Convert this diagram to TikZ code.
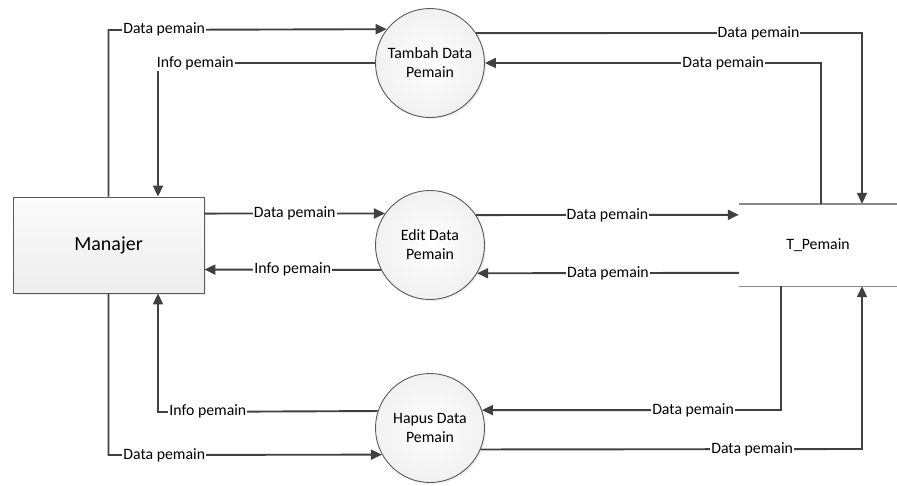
\documentclass[tikz,border=0pt]{standalone}
\usepackage{fontspec}
\setmainfont{Carlito}
\usetikzlibrary{arrows.meta,shadows,calc}
\definecolor{linegray}{HTML}{404040}
\definecolor{rimgray}{HTML}{5A5A5A}
\definecolor{storegray}{HTML}{8A8A8A}

\begin{document}
\begin{tikzpicture}[x=1pt,y=-1pt,
  flow/.style={draw=linegray, line width=1.9pt,
    -{Triangle[length=11pt,width=10pt]}},
  lbl/.style={fill=white, inner sep=1pt, text=black,
    font=\fontsize{15.8}{19}\selectfont},
  entity/.style={rectangle, draw=rimgray, line width=0.9pt,
    minimum width=191pt, minimum height=96pt, inner sep=0pt,
    top color=gray!3, bottom color=gray!14,
    drop shadow={shadow xshift=1.5pt, shadow yshift=-1.5pt, opacity=0.15},
    font=\fontsize{20}{24}\selectfont},
  process/.style={circle, draw=rimgray, line width=0.9pt,
    minimum size=109pt, inner sep=0pt, align=center,
    inner color=white, outer color=gray!11,
    drop shadow={shadow xshift=1.5pt, shadow yshift=-1.5pt, opacity=0.15},
    font=\fontsize{15.8}{19}\selectfont},
  datastore/.style={rectangle, minimum width=158pt, minimum height=82pt,
    inner sep=0pt, font=\fontsize{15.8}{19}\selectfont},
  storeline/.style={draw=storegray, line width=1.4pt}
]
\useasboundingbox (0,0) rectangle (897,485);

% external entity, processes and data store
\node[entity] (manajer) at (108.5,245) {Manajer};
\node[process] (tambah) at (430,63) {Tambah Data\\Pemain};
\node[process] (edit) at (430,245) {Edit Data\\Pemain};
\node[process] (hapus) at (430,428) {Hapus Data\\Pemain};
\node[datastore] (tpemain) at (818,245) {T\_Pemain};
\draw[storeline] (tpemain.north west) -- (tpemain.north east);
\draw[storeline] (tpemain.south west) -- (tpemain.south east);

% bend points of the data flows
\coordinate (m1) at (108.5,30);
\coordinate (m2) at (158,63);
\coordinate (m3) at (158,412);
\coordinate (m4) at (108.5,455);
\coordinate (s1) at (862,33);
\coordinate (s2) at (821,63);
\coordinate (s3) at (781,410);
\coordinate (s4) at (862,449);

% Manajer <-> Tambah Data Pemain
\draw[flow] (manajer.north) -- (m1) -- node[lbl,pos=0.2]{Data pemain} (tambah.142.7);
\draw[flow] (tambah.west) -- node[lbl,pos=0.828]{Info pemain} (m2) -- (m2 |- manajer.north);

% Tambah Data Pemain <-> T_Pemain
\draw[flow] (tambah.33.4) -- node[lbl,pos=0.732]{Data pemain} (s1) -- (s1 |- tpemain.north);
\draw[flow] (s2 |- tpemain.north) -- (s2) -- node[lbl,pos=0.291]{Data pemain} (tambah.east);

% Manajer <-> Edit Data Pemain
\draw[flow] ($(manajer.north east)+(0,17)$) -- node[lbl,pos=0.5]{Data pemain} (edit.145.3);
\draw[flow] (edit.207.3) -- node[lbl,pos=0.5]{Info pemain} ($(manajer.north east)+(0,73)$);

% Edit Data Pemain <-> T_Pemain
\draw[flow] (edit.33.4) -- node[lbl,pos=0.5]{Data pemain} ($(tpemain.north west)+(0,11)$);
\draw[flow] ($(tpemain.north west)+(0,69)$) -- node[lbl,pos=0.5]{Data pemain} (edit.329.1);

% Manajer <-> Hapus Data Pemain
\draw[flow] (hapus.162.9) -- node[lbl,pos=0.773]{Info pemain} (m3) -- (m3 |- manajer.south);
\draw[flow] (manajer.south) -- (m4) -- node[lbl,pos=0.204]{Data pemain} (hapus.209.7);

% Hapus Data Pemain <-> T_Pemain
\draw[flow] (s3 |- tpemain.south) -- (s3) -- node[lbl,pos=0.294]{Data pemain} (hapus.19.3);
\draw[flow] (hapus.337.3) -- node[lbl,pos=0.712]{Data pemain} (s4) -- (s4 |- tpemain.south);
\end{tikzpicture}
\end{document}
